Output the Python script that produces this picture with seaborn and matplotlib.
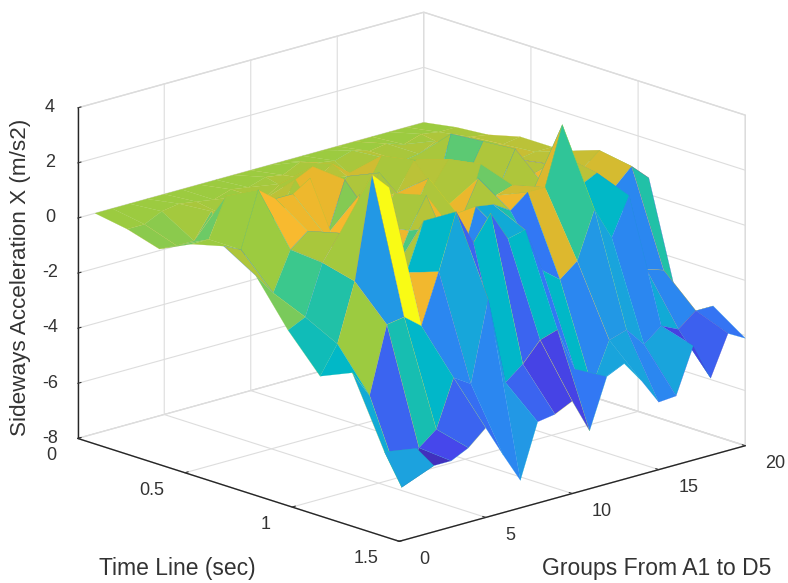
import matplotlib
matplotlib.use("Agg")
import matplotlib.pyplot as plt
import numpy as np
import seaborn as sns

sns.set_theme(style="white", font="Liberation Sans")
plt.rcParams["axes.unicode_minus"] = False

# values
time_line = [0, 0.15, 0.3, 0.45, 0.6, 0.75, 0.9, 1.05, 1.2, 1.35, 1.5]
groups = list(range(1, 21))

z_t00 = [0] * 20
z_t01 = [-0.2, -0.2, 0.1, 0.2, 0.1, 0, 0.2, 0.1, 0.3, 0.2, 0.5, 0.3, 0.2, 0.4, 0.2, 0.3, 0.1, 0.3, 0.2, 0.2]
z_t02 = [-0.55, -0.6, -0.6, 0.3, -0.1, 0.5, 0.2, 0.6, 0, 0.4, 0.8, 0.3, -0.5, 0.5, 0.2, 0.3, 0.6, 0.1, 0.4, 0.3]
z_t03 = [0, 0, 1.4, -0.95, -0.2, 0.2, 1.3, 1.6, 0.3, 0.9, 0.2, 1.3, 0.4, 0.8, -0.8, 1.4, 0.2, 0.7, 0.5, 0.6]
z_t04 = [0.3, 0, 2.0, 1.5, 1.5, 1.9, -0.3, 1.5, 0.2, 1.4, 0.5, 1.5, 0.3, 1.2, 0.3, 1.5, 0.4, 0.5, 0.6, 0.6]
z_t05 = [-0.4, -1.2, 0.2, 0.7, 0.4, -0.8, 1.5, 0.2, 1.2, 0.3, 1.4, 0.2, -0.6, 1.4, 0.3, 1.6, 0.5, 0.7, 1.0, 0.5]
z_t06 = [-2.0, -1.7, 0.1, 1.0, -0.9, 0.3, -1.0, 0.4, 1.5, 0.5, 0.3, 1.6, 0.8, 1.0, 0.4, 0.5, 1.5, 0.9, 1.4, 0.7]
z_t07 = [-3.3, -2.3, -0.2, 3.5, 2.85, -0.4, 1.3, 0.9, -0.8, 1.3, 1.2, 0.8, 1.3, 1.3, 3.4, 1.0, 1.3, 0.6, 1.2, 0.6]
z_t08 = [-2.8, -3.8, -1.4, -1.3, -1.8, 0, 2.0, 0.7, 1.6, 0.5, 0.65, -1.0, -1.5, -1.0, 0.7, -0.5, 0.85, -2.0, -2.2, -4.0]
z_t09 = [-5.3, -6.76, -5.5, -5.0, -3.3, -3.7, -0.8, -4.0, -3.5, -2.8, -2.6, -4.2, -5.0, -3.5, -3.3, -4.0, -3.5, -3.8, -3.3, -3.3]
z_t10 = [-4.8, -5.6, -5.6, -5.3, -4.75, -5.9, -7.0, -5.05, -4.95, -4.65, -5.9, -4.1, -3.8, -4.6, -5.55, -5.5, -3.85, -5.2, -3.75, -4.1]

# colour level of the facets in the front rows, as seen in the picture
c_t07 = [-2.3, 0.0, -3.8, 3.5, 1.7, -2.4, 1.5, -1.0, -4.4, -3.0, -1.8, -4.8, 1.0, -1.4, 3.5, -2.3, -1.8, -4.4, -1.7]
c_t08 = [-3.0, -5.2, -1.9, -2.4, -4.4, -3.2, -5.2, -2.4, -5.2, -2.3, -4.8, -2.3, -4.4, -3.8, -3.3, -4.4, -3.0, -4.4, -4.4]
c_t09 = [-3.4, -6.6, -5.8, -5.2, -5.0, -4.4, -3.8, -5.2, -5.9, -5.9, -4.8, -3.2, -3.3, -3.3, -4.4, -3.3, -6.0, -5.3, -4.9]

parula_stops = ["#3E26A8", "#4746EB", "#2F80F5", "#1EA0E0", "#00B8C8",
                "#3CC88C", "#9CCB40", "#E6B62C", "#FFBB30", "#F9FB15"]

z = np.array([z_t00, z_t01, z_t02, z_t03, z_t04, z_t05, z_t06, z_t07, z_t08, z_t09, z_t10])
level = z.copy()
level[7, :19] = c_t07
level[8, :19] = c_t08
level[9, :19] = c_t09
Y, X = np.meshgrid(groups, time_line)

cmap = sns.blend_palette(parula_stops, n_colors=256, as_cmap=True)
face = cmap(np.clip((level + 7.0) / 10.5, 0, 1))

fig = plt.figure(figsize=(7.88, 5.83), dpi=100)
S = 830
ax = fig.add_axes([-14.7 / 788, -120 / 583, S / 788, S / 583], projection="3d", proj_type="ortho")
ax.view_init(elev=17.3, azim=-42.9)
ax.set_box_aspect((472, 472, 346), zoom=0.88)
ax.patch.set_alpha(0)

surf = ax.plot_surface(X, Y, z, facecolors=face, rstride=1, cstride=1, shade=False, linewidth=0.15, antialiased=True)
surf.set_edgecolor("face")

ax.set_xlim(0, 1.5)
ax.set_ylim(0, 20)
ax.set_zlim(-8, 4)
ax.set_xticks([0, 0.5, 1, 1.5])
ax.set_xticklabels(["0", "0.5", "1", "1.5"])
ax.set_yticks([0, 5, 10, 15, 20])
ax.set_zticks([-8, -6, -4, -2, 0, 2, 4])
ax.zaxis.set_ticks_position("lower")

for axis in (ax.xaxis, ax.yaxis, ax.zaxis):
    axis.set_pane_color((1, 1, 1, 1))
    axis.pane.set_edgecolor("#d9d9d9")
    axis.line.set_color("#262626")
    axis.line.set_linewidth(1.0)
    axis._axinfo["grid"].update(color="#dddddd", linewidth=0.8)
    axis._axinfo["tick"].update(inward_factor=0.0, outward_factor=0.12)
    axis._axinfo["tick"]["linewidth"] = {True: 0.8, False: 0.5}
ax.grid(True)
ax.tick_params(axis="both", labelsize=13, colors="#333333", pad=11)
ax.tick_params(axis="z", labelsize=13, colors="#333333", pad=5)
for lab in ax.get_zticklabels():
    lab.set_va("center")
for lab in ax.get_xticklabels():
    lab.set_ha("right")
    lab.set_va("bottom")
for lab in ax.get_yticklabels():
    lab.set_ha("left")
    lab.set_va("bottom")

fig.text(177 / 788, 1 - 568 / 583, "Time Line (sec)", fontsize=16.5, color="#333333", ha="center", va="center")
fig.text(657 / 788, 1 - 568 / 583, "Groups From A1 to D5", fontsize=16.5, color="#333333", ha="center", va="center")
fig.text(21 / 788, 1 - 277 / 583, "Sideways Acceleration X (m/s2)", fontsize=16.2, color="#333333", rotation=90, ha="center", va="center")

fig.savefig("out.png", dpi=100)
